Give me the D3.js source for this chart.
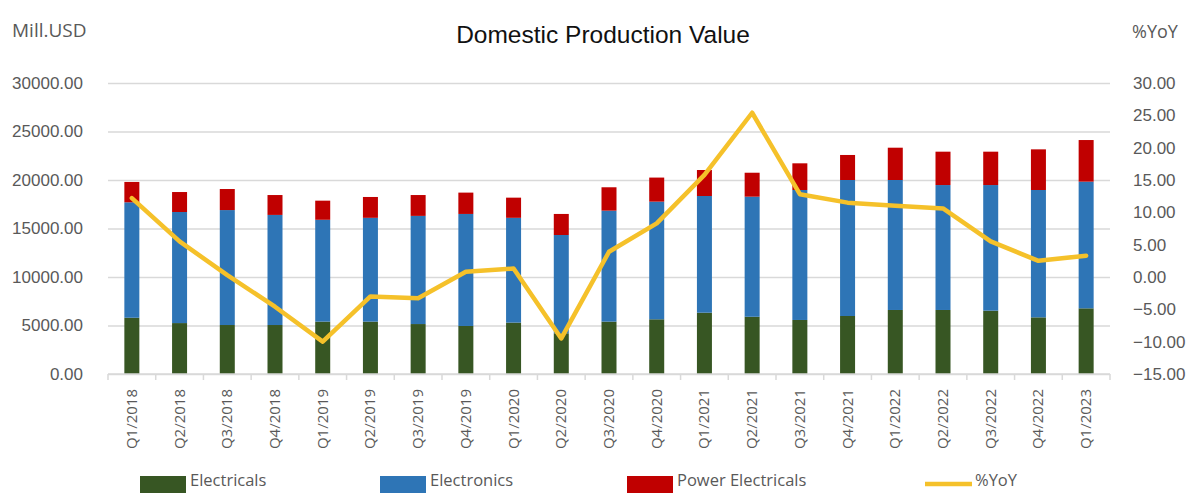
<!DOCTYPE html>
<html>
<head>
<meta charset="utf-8">
<style>
body { margin: 0; background: #fff; }
svg { display: block; font-family: "Open Sans", sans-serif; }
.tick-label { fill: #595959; font-size: 17px; }
.grid line { stroke: #d9d9d9; stroke-width: 1.5; }
.grid path { display: none; }
</style>
</head>
<body>
<svg id="chart" width="1192" height="493"></svg>
<script src="https://d3js.org/d3.v7.min.js"></script>
<script>

var quarters = ["Q1/2018","Q2/2018","Q3/2018","Q4/2018","Q1/2019","Q2/2019","Q3/2019","Q4/2019",
  "Q1/2020","Q2/2020","Q3/2020","Q4/2020","Q1/2021","Q2/2021","Q3/2021","Q4/2021",
  "Q1/2022","Q2/2022","Q3/2022","Q4/2022","Q1/2023"];

var electricals = [5800,5250,5050,5050,5400,5400,5150,4950,5300,4200,5400,5640,6320,5900,5570,5980,6600,6600,6530,5840,6770];
var electronics = [11900,11450,11850,11350,10500,10700,11150,11550,10800,10130,11440,12130,12030,12380,13400,14020,13400,12880,12950,13130,13060];
var powerElectricals = [2100,2060,2170,2050,1970,2150,2150,2200,2080,2170,2410,2480,2680,2470,2750,2580,3330,3440,3440,4190,4290];
var yoy = [12.2,5.5,0.3,-4.6,-10.0,-3.0,-3.3,0.8,1.3,-9.5,3.9,8.3,15.8,25.4,12.8,11.5,11.0,10.6,5.5,2.5,3.3];

var leftTicks = [0,5000,10000,15000,20000,25000,30000];
var rightTicks = [-15,-10,-5,0,5,10,15,20,25,30];

var seriesNames = ["Electricals","Electronics","Power Electricals"];
var colors = {"Electricals": "#375623", "Electronics": "#2e75b6", "Power Electricals": "#c00000"};
var lineColor = "#f5c12a";

var svg = d3.select("#chart");
var plot = {left: 108, right: 1110, top: 83, bottom: 374};

var x = d3.scaleBand().domain(quarters).range([plot.left, plot.right]);
var y = d3.scaleLinear().domain([0, 30000]).range([plot.bottom, plot.top]);
var y2 = d3.scaleLinear().domain([-15, 30]).range([plot.bottom, plot.top]);

var barWidth = 15;

// title + axis titles
svg.append("text")
  .attr("x", 603).attr("y", 43)
  .attr("text-anchor", "middle")
  .style("font-family", "'Liberation Sans', Arial, sans-serif")
  .style("font-size", "24.5px")
  .style("fill", "#111")
  .text("Domestic Production Value");

svg.append("text")
  .attr("x", 12).attr("y", 37)
  .style("font-size", "19px").style("fill", "#595959")
  .text("Mill.USD");

svg.append("text")
  .attr("x", 1132).attr("y", 38)
  .style("font-size", "18px").style("fill", "#595959")
  .text("%YoY");

// gridlines
svg.append("g")
  .attr("class", "grid")
  .attr("transform", "translate(" + plot.left + ",0)")
  .call(d3.axisLeft(y).tickValues(leftTicks).tickSize(-(plot.right - plot.left)).tickFormat(""));

// left axis labels
var yAxisL = svg.append("g")
  .attr("transform", "translate(" + plot.left + ",0)")
  .call(d3.axisLeft(y).tickValues(leftTicks).tickSize(0).tickPadding(25).tickFormat(d3.format(".2f")));
yAxisL.select(".domain").remove();
yAxisL.selectAll("text").attr("class", "tick-label").attr("font-family", null).attr("font-size", null);

// right axis labels
var yAxisR = svg.append("g")
  .attr("transform", "translate(" + plot.right + ",0)")
  .call(d3.axisRight(y2).tickValues(rightTicks).tickSize(0).tickPadding(23).tickFormat(d3.format(".2f")));
yAxisR.select(".domain").remove();
yAxisR.selectAll("text").attr("class", "tick-label").attr("font-family", null).attr("font-size", null);

// stacked bars
var rows = quarters.map(function(q, i) {
  return {q: q, "Electricals": electricals[i], "Electronics": electronics[i], "Power Electricals": powerElectricals[i]};
});
var stacked = d3.stack().keys(seriesNames)(rows);

svg.append("g").selectAll("g")
  .data(stacked).enter()
  .append("g")
  .attr("fill", function(d) { return colors[d.key]; })
  .selectAll("rect")
  .data(function(d) { return d; }).enter()
  .append("rect")
  .attr("x", function(d) { return x(d.data.q) + x.bandwidth() / 2 - barWidth / 2; })
  .attr("width", barWidth)
  .attr("y", function(d) { return y(d[1]); })
  .attr("height", function(d) { return y(d[0]) - y(d[1]); });

// x axis line and category ticks
svg.append("line")
  .attr("x1", plot.left).attr("x2", plot.right)
  .attr("y1", plot.bottom).attr("y2", plot.bottom)
  .attr("stroke", "#d9d9d9").attr("stroke-width", 1.5);

var bounds = quarters.map(function(q) { return x(q); }).concat([plot.right]);
svg.append("g").selectAll("line")
  .data(bounds).enter()
  .append("line")
  .attr("x1", function(d) { return d; }).attr("x2", function(d) { return d; })
  .attr("y1", plot.bottom).attr("y2", plot.bottom + 6)
  .attr("stroke", "#d9d9d9").attr("stroke-width", 1.5);

svg.append("g").selectAll("text")
  .data(quarters).enter()
  .append("text")
  .attr("transform", function(d) {
    return "translate(" + (x(d) + x.bandwidth() / 2 + 5) + "," + 389 + ") rotate(-90)";
  })
  .attr("text-anchor", "end")
  .style("font-size", "15px").style("fill", "#595959")
  .text(function(d) { return d; });

// %YoY line
var line = d3.line()
  .x(function(d, i) { return x(quarters[i]) + x.bandwidth() / 2; })
  .y(function(d) { return y2(d); });

svg.append("path")
  .datum(yoy)
  .attr("d", line)
  .attr("fill", "none")
  .attr("stroke", lineColor)
  .attr("stroke-width", 4.5)
  .attr("stroke-linejoin", "round")
  .attr("stroke-linecap", "round");

// legend
var legendItems = [
  {name: "Electricals", x: 140, type: "box"},
  {name: "Electronics", x: 380, type: "box"},
  {name: "Power Electricals", x: 627, type: "box"},
  {name: "%YoY", x: 925, type: "line"}
];
var legend = svg.append("g").selectAll("g")
  .data(legendItems).enter()
  .append("g")
  .attr("transform", function(d) { return "translate(" + d.x + ",0)"; });

legend.filter(function(d) { return d.type === "box"; })
  .append("rect")
  .attr("x", 0).attr("y", 476).attr("width", 46).attr("height", 17)
  .attr("fill", function(d) { return colors[d.name]; });

legend.filter(function(d) { return d.type === "line"; })
  .append("line")
  .attr("x1", 0).attr("x2", 47).attr("y1", 484).attr("y2", 484)
  .attr("stroke", lineColor).attr("stroke-width", 4.5);

legend.append("text")
  .attr("x", 50).attr("y", 486)
  .style("font-size", "16.5px").style("fill", "#595959")
  .text(function(d) { return d.name; });

</script>
</body>
</html>
